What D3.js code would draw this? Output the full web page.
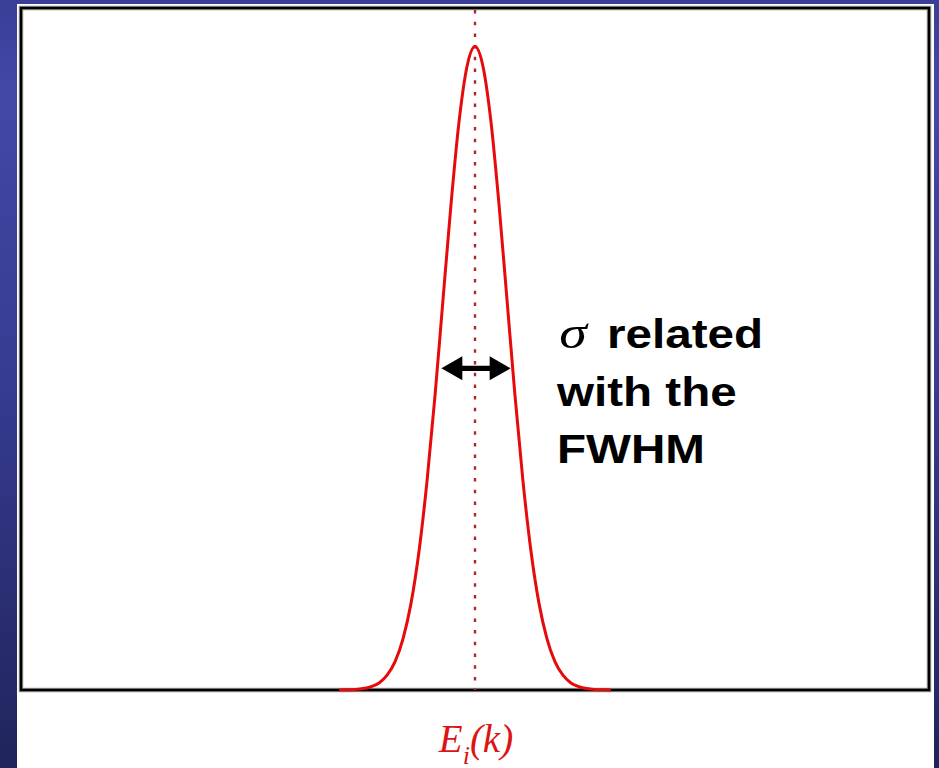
<!DOCTYPE html>
<html>
<head>
<meta charset="utf-8">
<script src="https://cdn.jsdelivr.net/npm/d3@7"></script>
<style>
  body { margin: 0; background: #fff; }
  svg { display: block; }
</style>
</head>
<body>
<script>
// curve readings, x in units of sigma around E_i(k), y relative to peak
var xValues = [-4.25, -4, -3.75, -3.5, -3.25, -3, -2.75, -2.5, -2.25, -2, -1.75, -1.5, -1.25, -1, -0.75, -0.5, -0.25,
               0, 0.25, 0.5, 0.75, 1, 1.25, 1.5, 1.75, 2, 2.25, 2.5, 2.75, 3, 3.25, 3.5, 3.75, 4, 4.25];
var yValues = [0.0001, 0.0003, 0.0009, 0.0022, 0.0051, 0.011, 0.023, 0.044, 0.080, 0.135, 0.216, 0.325, 0.458, 0.607, 0.755, 0.883, 0.969,
               1.0, 0.969, 0.883, 0.755, 0.607, 0.458, 0.325, 0.216, 0.135, 0.080, 0.044, 0.023, 0.011, 0.0051, 0.0022, 0.0009, 0.0003, 0.0001];
var halfWidth = 1.1775; // half width at half maximum, in sigma
var noteLines = ["related", "with the", "FWHM"];
var axisLabel = "E";

var width = 939;
var height = 768;

var svg = d3.select("body").append("svg")
    .attr("width", width)
    .attr("height", height);

/* blue slide background with white panel */
var grad = svg.append("defs").append("linearGradient")
    .attr("id", "bg").attr("x1", 0).attr("y1", 0).attr("x2", 0).attr("y2", 1);
grad.append("stop").attr("offset", "0").attr("stop-color", "#3a3e98");
grad.append("stop").attr("offset", "0.12").attr("stop-color", "#4347a7");
grad.append("stop").attr("offset", "0.5").attr("stop-color", "#373b91");
grad.append("stop").attr("offset", "1").attr("stop-color", "#20245b");

svg.append("rect").attr("width", width).attr("height", height).attr("fill", "url(#bg)");
svg.append("rect").attr("x", 17).attr("y", 4).attr("width", 917).attr("height", height).attr("fill", "#fff");

var plot = {left: 21, right: 929, top: 8, bottom: 690};

var xScale = d3.scaleLinear()
    .domain([-14.2, 14.2])
    .range([plot.left, plot.right]);

var yScale = d3.scaleLinear()
    .domain([0, 1.06])
    .range([plot.bottom, plot.top]);

/* frame: grey halo then black line */
svg.append("rect")
    .attr("x", plot.left).attr("y", plot.top)
    .attr("width", plot.right - plot.left).attr("height", plot.bottom - plot.top)
    .attr("fill", "none").attr("stroke", "#9a9a9a").attr("stroke-width", 4.5);
svg.append("rect")
    .attr("x", plot.left).attr("y", plot.top)
    .attr("width", plot.right - plot.left).attr("height", plot.bottom - plot.top)
    .attr("fill", "none").attr("stroke", "#000").attr("stroke-width", 2.5);

/* dotted centre line */
svg.append("line")
    .attr("x1", xScale(0)).attr("x2", xScale(0))
    .attr("y1", plot.top + 2).attr("y2", plot.bottom)
    .attr("stroke", "#b02828").attr("stroke-width", 2.4)
    .attr("stroke-dasharray", "3.5,8.2");

/* gaussian */
var points = xValues.map(function(x, i) { return [x, yValues[i]]; });
var line = d3.line()
    .x(function(d) { return xScale(d[0]); })
    .y(function(d) { return yScale(d[1]); })
    .curve(d3.curveMonotoneX);

svg.append("path")
    .datum(points)
    .attr("d", line)
    .attr("fill", "none")
    .attr("stroke", "#e60a0a")
    .attr("stroke-width", 3);

/* double arrow across the FWHM */
var ay = yScale(0.5);
var ax1 = xScale(-halfWidth) + 4;
var ax2 = xScale(halfWidth) - 2;
var head = 21, hw = 12, sw = 2.6;
svg.append("path")
    .attr("d", "M" + ax1 + "," + ay +
               "L" + (ax1 + head) + "," + (ay - hw) +
               "L" + (ax1 + head) + "," + (ay - sw) +
               "L" + (ax2 - head) + "," + (ay - sw) +
               "L" + (ax2 - head) + "," + (ay - hw) +
               "L" + ax2 + "," + ay +
               "L" + (ax2 - head) + "," + (ay + hw) +
               "L" + (ax2 - head) + "," + (ay + sw) +
               "L" + (ax1 + head) + "," + (ay + sw) +
               "L" + (ax1 + head) + "," + (ay + hw) + "Z")
    .attr("fill", "#000");

/* note text */
var note = svg.append("g")
    .attr("transform", "translate(557,0) scale(1.19,1)");
var t1 = note.append("text").attr("y", 348).attr("font-size", 40);
t1.append("tspan")
    .attr("font-family", "'Liberation Serif', 'Times New Roman', serif")
    .attr("font-style", "italic")
    .attr("font-size", 47)
    .attr("x", 2)
    .text("\u03c3");
t1.append("tspan")
    .attr("font-family", "'Liberation Sans', Arial, sans-serif")
    .attr("font-weight", "bold")
    .attr("x", 42)
    .text(noteLines[0]);
note.selectAll("text.more")
    .data(noteLines.slice(1))
    .enter().append("text")
    .attr("class", "more")
    .attr("y", function(d, i) { return 406 + i * 57; })
    .attr("font-family", "'Liberation Sans', Arial, sans-serif")
    .attr("font-weight", "bold")
    .attr("font-size", 40)
    .attr("fill", "#000")
    .text(function(d) { return d; });

/* axis label E_i(k) */
var lab = svg.append("text")
    .attr("x", xScale(0) + 1)
    .attr("y", 752)
    .attr("text-anchor", "middle")
    .attr("font-family", "'Liberation Serif', 'Times New Roman', serif")
    .attr("font-style", "italic")
    .attr("font-size", 39)
    .attr("fill", "#dc1414");
lab.append("tspan").text(axisLabel);
lab.append("tspan").attr("font-size", 26).attr("dy", 12).text("i");
lab.append("tspan").attr("dy", -12).text("(k)");
</script>
</body>
</html>
